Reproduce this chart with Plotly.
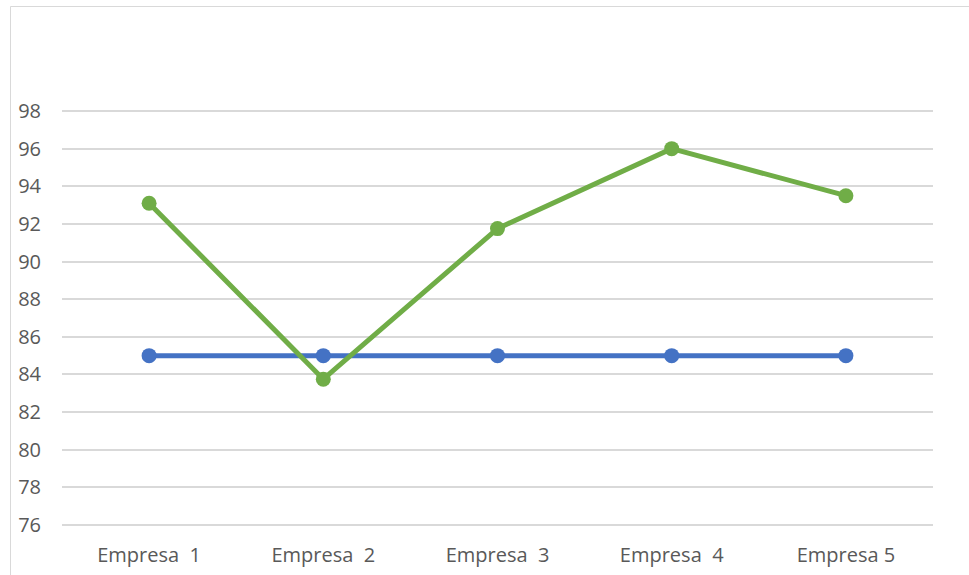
import plotly.graph_objects as go

categories = ["Empresa\u00a0\u00a01", "Empresa\u00a0\u00a02", "Empresa\u00a0\u00a03", "Empresa\u00a0\u00a04", "Empresa\u00a05"]
meta = [85, 85, 85, 85, 85]
resultado = [93.1, 83.75, 91.75, 96.0, 93.5]
y_ticks = list(range(76, 100, 2))

W, H = 969, 575
L, R, T, B = 62, 36, 109, 48
pad = 2 / (414 / 22)

fig = go.Figure()
fig.add_trace(go.Scatter(x=categories, y=meta, mode="lines+markers",
                         line=dict(color="#4472C4", width=5),
                         marker=dict(color="#4472C4", size=15),
                         name="Meta", showlegend=False))
fig.add_trace(go.Scatter(x=categories, y=resultado, mode="lines+markers",
                         line=dict(color="#70AD47", width=5),
                         marker=dict(color="#70AD47", size=15),
                         name="Resultado", showlegend=False))

pw = W - L - R
ph = H - T - B
bx = (10.5 - L) / pw
by = 1 + (T - 6.5) / ph

fig.add_shape(type="line", xref="paper", yref="paper", x0=bx, x1=bx, y0=-0.5, y1=by,
              line=dict(color="#D9D9D9", width=1))
fig.add_shape(type="line", xref="paper", yref="paper", x0=bx, x1=1.2, y0=by, y1=by,
              line=dict(color="#D9D9D9", width=1))

fig.update_layout(
    width=W, height=H,
    margin=dict(l=L, r=R, t=T, b=B, autoexpand=False),
    paper_bgcolor="white", plot_bgcolor="white",
    font=dict(family="Open Sans", color="#595959", size=20),
    xaxis=dict(type="category", range=[-0.5, 4.5], showgrid=False, showline=False,
               zeroline=False, ticks="", ticklabelstandoff=14, automargin=False,
               tickfont=dict(size=20, color="#595959")),
    yaxis=dict(range=[76 - pad, 98 + pad], tickvals=y_ticks, showgrid=True, gridcolor="#D9D9D9",
               gridwidth=1.5, zeroline=False, showline=False, ticks="", automargin=False,
               ticklabelstandoff=20, tickfont=dict(size=20, color="#595959")),
)

fig.write_html("out.html")
